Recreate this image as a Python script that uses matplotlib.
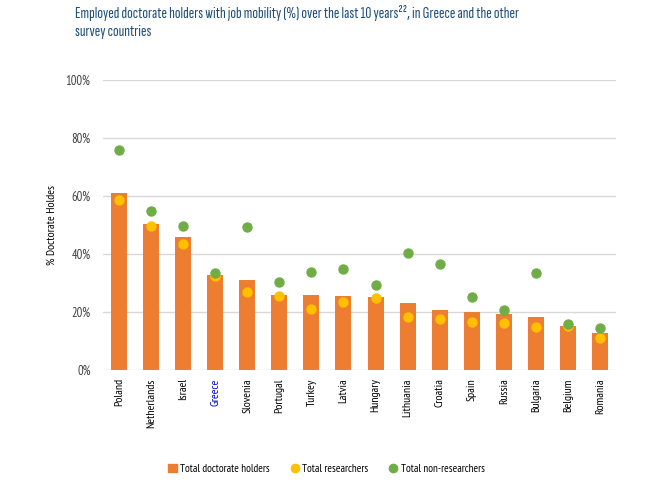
import matplotlib
matplotlib.use("Agg")
import matplotlib.pyplot as plt
import matplotlib.ticker as ticker
import numpy as np
from matplotlib.lines import Line2D
from matplotlib.patches import Patch

countries = ['Poland', 'Netherlands', 'Israel', 'Greece', 'Slovenia', 'Portugal',
             'Turkey', 'Latvia', 'Hungary', 'Lithuania', 'Croatia', 'Spain',
             'Russia', 'Bulgaria', 'Belgium', 'Romania']
doctorate = [61.0, 50.5, 45.7, 32.6, 31.2, 26.0, 25.9, 25.4, 25.3, 23.2, 20.7,
             19.9, 19.3, 18.3, 15.3, 12.7]
researchers = [58.6, 49.6, 43.6, 32.3, 26.8, 25.4, 21.2, 23.5, 24.7, 18.3, 17.7,
               16.4, 16.2, 14.9, 15.1, 11.2]
non_researchers = [75.7, 54.9, 49.6, 33.6, 49.2, 30.2, 33.8, 35.0, 29.4, 40.2, 36.6,
                   25.2, 20.7, 33.3, 16.0, 14.5]

c_bar = '#ED7D31'
c_res = '#FFC000'
c_non = '#70AD47'
c_text = '#404040'

plt.rcParams['font.family'] = ['PT Sans Narrow', 'DejaVu Sans']

fig = plt.figure(figsize=(6.57, 5.03), dpi=100)
ax = fig.add_axes([0.1568, 0.2644, 0.7808, 0.5765])

x = np.arange(len(countries))
ax.bar(x, doctorate, width=0.5, color=c_bar, zorder=2)
ax.scatter(x, researchers, s=42, color=c_res, zorder=3)
ax.scatter(x, non_researchers, s=42, color=c_non, zorder=4)

ax.set_xlim(-0.5, len(countries) - 0.5)
ax.set_ylim(0, 100)
ax.yaxis.set_major_locator(ticker.MultipleLocator(20))
ax.yaxis.set_major_formatter(ticker.FuncFormatter(lambda v, p: '%d%%' % v))
ax.grid(axis='y', color='#D9D9D9', linewidth=1, zorder=0)
for s in ax.spines.values():
    s.set_visible(False)
ax.tick_params(axis='both', length=0, labelsize=8.5, colors=c_text)
ax.tick_params(axis='y', pad=9, labelsize=9)
ax.tick_params(axis='x', pad=6)
ax.set_xticks(x)
ax.set_xticklabels(countries, rotation=90, fontsize=8.5)
for lab in ax.get_xticklabels():
    lab.set_color('black')
    if lab.get_text() == 'Greece':
        lab.set_color('#0000CC')
ax.set_ylabel('% Doctorate Holdes', fontsize=8.5, color='black', labelpad=6)

fig.text(0.114, 0.99, 'Employed doctorate holders with job mobility (%) over the last 10 years²², in Greece and the other\nsurvey countries',
         fontsize=12, color='#1F4E79', va='top', ha='left', linespacing=1.4,
         family=['Sofia Sans Extra Condensed', 'DejaVu Sans'])

handles = [Patch(color=c_bar, label='Total doctorate holders'),
           Line2D([], [], marker='o', linestyle='none', color=c_res, markersize=6, label='Total researchers'),
           Line2D([], [], marker='o', linestyle='none', color=c_non, markersize=6, label='Total non-researchers')]
fig.legend(handles=handles, loc='center', bbox_to_anchor=(0.497, 0.068), ncol=3, frameon=False,
           fontsize=8, handlelength=0.8, handletextpad=0.3, columnspacing=1.8)

fig.savefig('out.png', dpi=100)
